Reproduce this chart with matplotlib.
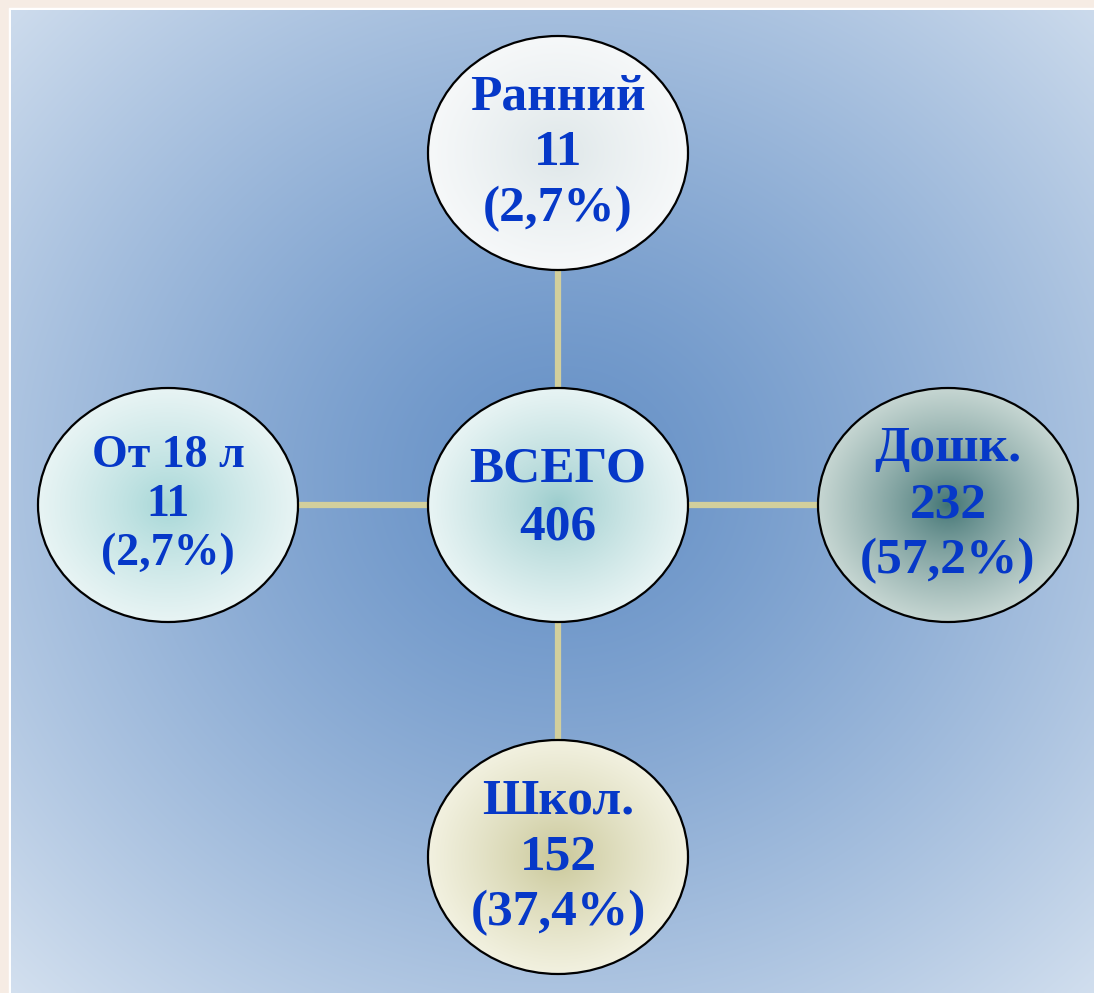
import numpy as np
import matplotlib.pyplot as plt
from matplotlib.patches import Ellipse, Rectangle
from matplotlib.colors import to_rgb

labels = ['ВСЕГО', 'Ранний', 'Дошк.', 'Школ.', 'От 18 л']
counts = [406, 11, 232, 152, 11]
percents = [None, 2.7, 57.2, 37.4, 2.7]

W, H = 1094, 993
fig = plt.figure(figsize=(W / 100, H / 100), dpi=100)
ax = fig.add_axes([0, 0, 1, 1])
ax.set_xlim(0, W)
ax.set_ylim(H, 0)
ax.axis('off')

# outer frame
ax.add_patch(Rectangle((0, 0), W, H, color='#f6ece4', zorder=0))
ax.add_patch(Rectangle((9, 8), W, H, color='white', zorder=0.5))


def radial(x0, x1, y0, y1, cx, cy, rx, ry, c_in, c_out, power=1.0, n=300):
    xs = np.linspace(x0, x1, n)
    ys = np.linspace(y0, y1, n)
    X, Y = np.meshgrid(xs, ys)
    t = np.clip(np.sqrt(((X - cx) / rx) ** 2 + ((Y - cy) / ry) ** 2), 0, 1) ** power
    a = np.array(to_rgb(c_in))
    b = np.array(to_rgb(c_out))
    return a + (b - a) * t[..., None]


# panel background
bg = radial(11, W, 10, H, 560, 480, 800, 740, '#6590c6', '#d6e2f0', power=1.25)
ax.imshow(bg, extent=(11, W, H, 10), zorder=1, interpolation='bilinear')

cx0, cy0 = 558, 505
dx, dy = 390, 352
positions = [(cx0, cy0), (cx0, cy0 - dy), (cx0 + dx, cy0), (cx0, cy0 + dy), (cx0 - dx, cy0)]
fills = [('#9acccc', '#e8f4f4'), ('#dde6e8', '#f6f8f9'), ('#3f7272', '#c6d6d2'),
         ('#c8c696', '#f2f1e0'), ('#a4d6d6', '#e8f4f4')]
sizes = [37, 37, 37, 37, 33]
steps = [57, 56, 56, 56, 49]
rx, ry = 130, 117

# connectors
for (x, y) in positions[1:]:
    ax.plot([cx0, x], [cy0, y], color='#d2cf9c', lw=4.5, zorder=2, solid_capstyle='butt')

for i, (x, y) in enumerate(positions):
    ell = Ellipse((x, y), 2 * rx, 2 * ry, facecolor='none', edgecolor='black', lw=1.6, zorder=5)
    ax.add_patch(ell)
    img = radial(x - rx, x + rx, y - ry, y + ry, x, y, rx, ry, fills[i][0], fills[i][1], power=0.8)
    im = ax.imshow(img, extent=(x - rx, x + rx, y + ry, y - ry), zorder=3, interpolation='bilinear')
    clip = Ellipse((x, y), 2 * rx, 2 * ry, transform=ax.transData)
    im.set_clip_path(clip)

    if percents[i] is None:
        lines = [labels[i], str(counts[i])]
        offs = [-35, 22]
    else:
        pct = f'({percents[i]:.1f}%)'.replace('.', ',')
        lines = [labels[i], str(counts[i]), pct]
        offs = [-steps[i], 0, steps[i]]
    for s, o in zip(lines, offs):
        ax.text(x, y + o, s, ha='center', va='center', fontsize=sizes[i], fontweight='bold',
                family=['Liberation Serif', 'DejaVu Serif'], color='#0638c8', zorder=6)

fig.savefig('out.png', dpi=100)
